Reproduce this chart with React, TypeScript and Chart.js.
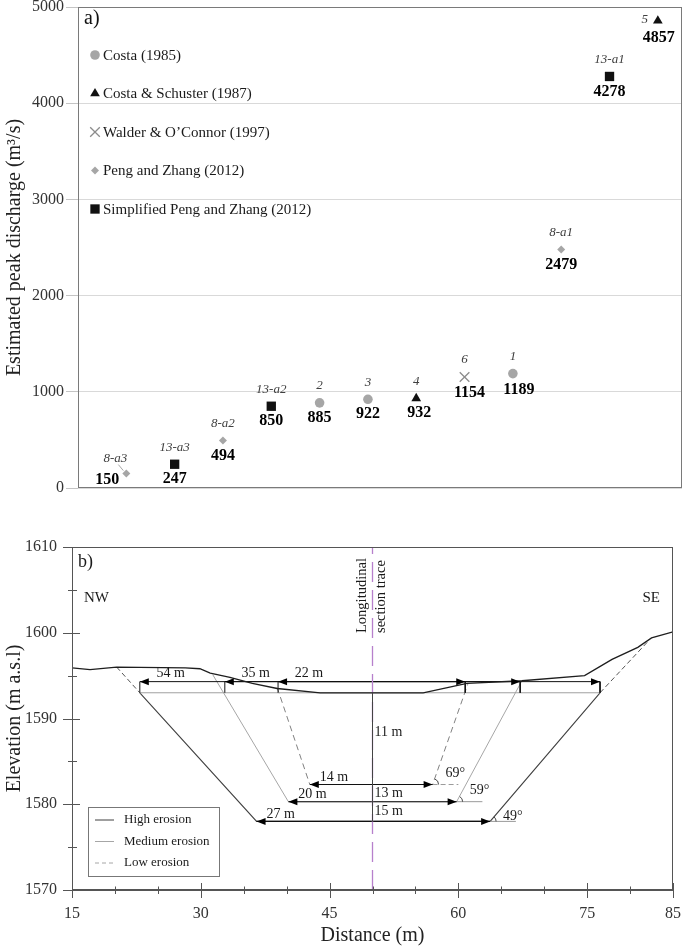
import React, { useEffect, useRef } from 'react';
import { Chart, registerables } from 'chart.js';
import { drawPoint } from 'chart.js/helpers';
import type { ChartConfiguration, Plugin } from 'chart.js';

Chart.register(...registerables);

const SERIF = '"Liberation Serif", "Times New Roman", Times, serif';

// ---- a) estimated peak discharge ----
const methodNames = [
  'Costa (1985)',
  'Costa & Schuster (1987)',
  'Walder & O’Connor (1997)',
  'Peng and Zhang (2012)',
  'Simplified Peng and Zhang (2012)',
];
const caseIds = ['8-a3', '13-a3', '8-a2', '13-a2', '2', '3', '4', '6', '1', '8-a1', '13-a1', '5'];
const caseMethod = [3, 4, 3, 4, 0, 0, 1, 2, 0, 3, 4, 1];
const peakDischarge = [150, 247, 494, 850, 885, 922, 932, 1154, 1189, 2479, 4278, 4857];

// ---- b) cross section ----
const terrainX = [15, 17.1, 20.2, 28.2, 29.9, 31.1, 33.4, 36.0, 38.9, 43.9, 55.9, 61.0, 67.4, 74.7, 77.9, 80.9, 82.5, 85];
const terrainY = [1595.9, 1595.7, 1596.0, 1595.9, 1595.8, 1595.3, 1594.8, 1594.1, 1593.5, 1593.0, 1593.0, 1594.1, 1594.4, 1595.0, 1596.9, 1598.3, 1599.4, 1600.1];
const bedX = [22.9, 76.5];
const bedY = [1593, 1593];
const highX = [22.9, 36.5, 63.7, 76.5];
const highY = [1593, 1578, 1578, 1593];
const highExtLeftX = [20.2, 22.9];
const highExtLeftY = [1596, 1593];
const highExtRightX = [76.5, 82.1];
const highExtRightY = [1593, 1599];
const mediumX = [31.4, 40.2, 59.8, 67.4];
const mediumY = [1595.1, 1580.3, 1580.3, 1594.4];
const lowX = [38.9, 42.7, 57.0, 61.1];
const lowY = [1593.6, 1582.3, 1582.3, 1594.0];
const bedLevel = 1593;
const spanLevel = 1594.3;
const topSpanLeft = [22.9, 32.8, 39.0];
const topSpanRight = [76.5, 67.2, 60.8];
const topSpanLabels = ['54 m', '35 m', '22 m'];
const floorLeft = [42.7, 40.2, 36.5];
const floorRight = [57.0, 59.8, 63.7];
const floorLevel = [1582.3, 1580.3, 1578.0];
const floorLabels = ['14 m', '20 m', '27 m'];
const depthLabels = ['11 m', '13 m', '15 m'];
const slopeAngles = [69, 59, 49];
const traceX = 50;
const distanceTicks = [15, 30, 45, 60, 75, 85];
const elevationTicks = [1570, 1580, 1590, 1600, 1610];
const erosionNames = ['High erosion', 'Medium erosion', 'Low erosion'];

const methodStyle = [
  { pointStyle: 'circle', radius: 4.8, color: '#a6a6a6', border: 0 },
  { pointStyle: 'triangle', radius: 5.6, color: '#111111', border: 0 },
  { pointStyle: 'crossRot', radius: 6.8, color: '#8c8c8c', border: 1.3 },
  { pointStyle: 'rectRot', radius: 4, color: '#a6a6a6', border: 0 },
  { pointStyle: 'rect', radius: 6.6, color: '#111111', border: 0 },
];

const labelNudge: Record<string, { idDx?: number; idDy?: number; valDx?: number; valDy?: number }> = {
  '8-a3': { idDx: -11, idDy: -15, valDx: -19, valDy: 6 },
  '5': { idDx: -13, idDy: -1, valDx: 1, valDy: 17 },
  '6': { valDx: 5, valDy: 16 },
  '1': { valDx: 6, valDy: 16 },
  '4': { valDx: 3 },
};

const panelAPlugin: Plugin<'scatter'> = {
  id: 'panelA',
  afterDraw(chart) {
    const { ctx, chartArea: a } = chart;
    ctx.save();
    ctx.strokeStyle = '#7a7a7a';
    ctx.lineWidth = 1;
    ctx.strokeRect(a.left + 0.5, a.top + 0.5, a.width - 1, a.height - 1);

    ctx.fillStyle = '#111';
    ctx.font = `20px ${SERIF}`;
    ctx.textAlign = 'left';
    ctx.textBaseline = 'middle';
    ctx.fillText('a)', a.left + 6, a.top + 12);

    methodNames.forEach((name, m) => {
      const st = methodStyle[m];
      const y = a.top + 48 + m * 38.5;
      ctx.fillStyle = st.color;
      ctx.strokeStyle = st.color;
      ctx.lineWidth = st.border || 1;
      drawPoint(ctx, { pointStyle: st.pointStyle as any, radius: st.radius, rotation: 0, borderWidth: st.border }, a.left + 17, y);
      ctx.fillStyle = '#1a1a1a';
      ctx.font = `15px ${SERIF}`;
      ctx.textAlign = 'left';
      ctx.fillText(name, a.left + 25, y + 1);
    });

    ctx.textAlign = 'center';
    chart.data.datasets.forEach((ds, di) => {
      const meta = chart.getDatasetMeta(di);
      meta.data.forEach((el, j) => {
        const raw = ds.data[j] as any;
        const n = labelNudge[raw.id] || {};
        ctx.font = `italic 13px ${SERIF}`;
        ctx.fillStyle = '#404040';
        ctx.fillText(raw.id, el.x + (n.idDx ?? 0), el.y + (n.idDy ?? -17));
        ctx.font = `bold 16px ${SERIF}`;
        ctx.fillStyle = '#000';
        ctx.fillText(String(raw.y), el.x + (n.valDx ?? 0), el.y + (n.valDy ?? 15));
        if (raw.id === '8-a3') {
          ctx.strokeStyle = '#a6a6a6';
          ctx.lineWidth = 1;
          ctx.beginPath();
          ctx.moveTo(el.x - 8, el.y - 9);
          ctx.lineTo(el.x - 3, el.y - 3);
          ctx.stroke();
        }
      });
    });
    ctx.restore();
  },
};

function arrowHead(ctx: CanvasRenderingContext2D, x: number, y: number, dir: number) {
  ctx.beginPath();
  ctx.moveTo(x, y);
  ctx.lineTo(x - dir * 9, y - 3.5);
  ctx.lineTo(x - dir * 9, y + 3.5);
  ctx.closePath();
  ctx.fill();
}

const panelBPlugin: Plugin<'line'> = {
  id: 'panelB',
  afterDraw(chart) {
    const { ctx, chartArea: a } = chart;
    const xs = chart.scales.x;
    const ys = chart.scales.y;
    const px = (v: number) => xs.getPixelForValue(v);
    const py = (v: number) => ys.getPixelForValue(v);
    ctx.save();

    // frame and crossing ticks
    ctx.strokeStyle = '#555';
    ctx.lineWidth = 1;
    ctx.strokeRect(a.left + 0.5, a.top + 0.5, a.width - 1, a.height - 1);
    ctx.beginPath();
    for (let v = 15; v <= 85; v += 5) {
      const major = distanceTicks.includes(v);
      const x = Math.round(px(v)) + 0.5;
      ctx.moveTo(x, a.bottom - (major ? 7 : 3.5));
      ctx.lineTo(x, a.bottom + (major ? 8 : 4));
    }
    for (let v = 1570; v <= 1610; v += 5) {
      const major = elevationTicks.includes(v);
      const y = Math.round(py(v)) + 0.5;
      ctx.moveTo(a.left - (major ? 9 : 4), y);
      ctx.lineTo(a.left + (major ? 8 : 5), y);
    }
    ctx.stroke();

    // arrow heads
    ctx.fillStyle = '#000';
    topSpanLeft.forEach((l, i) => {
      arrowHead(ctx, px(l), py(spanLevel), -1);
      arrowHead(ctx, px(topSpanRight[i]), py(spanLevel), 1);
    });
    floorLeft.forEach((l, i) => {
      arrowHead(ctx, px(l), py(floorLevel[i]), -1);
      arrowHead(ctx, px(floorRight[i]), py(floorLevel[i]), 1);
    });

    // angle arcs
    ctx.strokeStyle = '#333';
    ctx.lineWidth = 0.9;
    slopeAngles.forEach((deg, i) => {
      ctx.beginPath();
      ctx.arc(px(floorRight[i]), py(floorLevel[i]), 6, -(deg * Math.PI) / 180, 0);
      ctx.stroke();
    });

    // text
    ctx.fillStyle = '#1a1a1a';
    ctx.textBaseline = 'middle';
    ctx.font = `18px ${SERIF}`;
    ctx.textAlign = 'left';
    ctx.fillText('b)', a.left + 6, a.top + 15);
    ctx.font = `15px ${SERIF}`;
    ctx.fillText('NW', a.left + 12, a.top + 51);
    ctx.textAlign = 'right';
    ctx.fillText('SE', a.right - 13, a.top + 51);

    ctx.font = `14px ${SERIF}`;
    ctx.textAlign = 'center';
    topSpanLabels.forEach((t, i) => ctx.fillText(t, px(topSpanLeft[i] + 3.6), py(spanLevel) - 8));
    floorLabels.forEach((t, i) => ctx.fillText(t, px(floorLeft[i]) + 24, py(floorLevel[i]) - 7));
    ctx.textAlign = 'left';
    depthLabels.forEach((t, i) => {
      const upper = i === 0 ? bedLevel : floorLevel[i - 1];
      const lift = i === 0 ? 6 : 0;
      ctx.fillText(t, px(traceX) + 2, py((upper + floorLevel[i]) / 2) - lift);
    });
    const angleLift = [11, 11, 5];
    slopeAngles.forEach((deg, i) => {
      ctx.fillText(`${deg}°`, px(floorRight[i]) + 13, py(floorLevel[i]) - angleLift[i]);
    });

    // longitudinal section trace caption
    ctx.save();
    ctx.translate(px(traceX), a.top + 86);
    ctx.rotate(-Math.PI / 2);
    ctx.font = `14.5px ${SERIF}`;
    ctx.textAlign = 'left';
    ctx.fillText('Longitudinal', 0, -10);
    ctx.fillText('section trace', 0, 9);
    ctx.restore();

    // legend box
    const bx = a.left + 16;
    const by = a.top + 260;
    ctx.strokeStyle = '#777';
    ctx.lineWidth = 1;
    ctx.strokeRect(bx + 0.5, by + 0.5, 131, 69);
    const legendColors = ['#404040', '#a6a6a6', '#a6a6a6'];
    erosionNames.forEach((name, i) => {
      const y = by + 13 + i * 21.5;
      ctx.strokeStyle = legendColors[i];
      ctx.setLineDash(i === 2 ? [4, 3] : []);
      ctx.beginPath();
      ctx.moveTo(bx + 7, y);
      ctx.lineTo(bx + 26, y);
      ctx.stroke();
      ctx.setLineDash([]);
      ctx.fillStyle = '#1a1a1a';
      ctx.font = `13px ${SERIF}`;
      ctx.fillText(name, bx + 36, y);
    });
    ctx.restore();
  },
};

const pts = (xs: number[], ys: number[]) => xs.map((x, i) => ({ x, y: ys[i] }));

const line = (label: string, data: { x: number; y: number }[], color: string, width: number, dash: number[] = []) => ({
  type: 'line' as const,
  label,
  data,
  borderColor: color,
  borderWidth: width,
  borderDash: dash,
  pointRadius: 0,
  fill: false,
  tension: 0,
});

const axisTitle = (text: string, pad: { top: number; bottom: number }) => ({
  display: true,
  text,
  color: '#222',
  font: { family: SERIF, size: 20 },
  padding: pad,
});

function buildConfigA(): ChartConfiguration<'scatter'> {
  return {
    type: 'scatter',
    data: {
      datasets: methodNames.map((label, m) => ({
        label,
        data: caseIds
          .map((id, i) => ({ x: i + 1, y: peakDischarge[i], id }))
          .filter((_, i) => caseMethod[i] === m) as any,
        pointStyle: methodStyle[m].pointStyle as any,
        pointRadius: methodStyle[m].radius,
        backgroundColor: methodStyle[m].color,
        borderColor: methodStyle[m].color,
        borderWidth: methodStyle[m].border,
      })),
    },
    options: {
      animation: false,
      responsive: true,
      maintainAspectRatio: false,
      layout: { autoPadding: false, padding: { left: 0, top: 17, right: 3, bottom: 12 } },
      plugins: { legend: { display: false }, tooltip: { enabled: false } },
      scales: {
        x: { type: 'linear', min: 0, max: 12.5, display: false },
        y: {
          min: 0,
          max: 5000,
          afterFit: (s) => { s.width = 78; },
          ticks: { stepSize: 1000, padding: 2, color: '#333', font: { family: SERIF, size: 16 }, callback: (v) => String(v) },
          grid: { color: '#d9d9d9', tickColor: '#c4c4c4', tickLength: 12 },
          border: { display: false },
          title: axisTitle('Estimated peak discharge (m³/s)', { top: 3, bottom: 0 }),
        },
      },
    },
    plugins: [panelAPlugin],
  };
}

function buildConfigB(): ChartConfiguration<'line'> {
  const spans = topSpanLeft.map((l, i) =>
    line(topSpanLabels[i], [
      { x: l, y: bedLevel }, { x: l, y: spanLevel }, { x: topSpanRight[i], y: spanLevel }, { x: topSpanRight[i], y: bedLevel },
    ], '#111', 1));
  const floors = floorLeft.map((l, i) =>
    line(floorLabels[i], [{ x: l, y: floorLevel[i] }, { x: floorRight[i], y: floorLevel[i] }], '#111', 1.1));
  const angleRefs = floorRight.map((r, i) =>
    line(`${slopeAngles[i]}°`, [{ x: r, y: floorLevel[i] }, { x: r + 3, y: floorLevel[i] }], '#9a9a9a', 1, i === 0 ? [5, 3] : []));
  return {
    type: 'line',
    data: {
      // the first dataset is painted last, so the depth line sits over the trace
      datasets: [
        line('Depth', [{ x: traceX, y: bedLevel }, { x: traceX, y: floorLevel[2] }], '#444', 0.9),
        line('Terrain', pts(terrainX, terrainY), '#1e1e1e', 1.3),
        line('Trace', [{ x: traceX, y: 1570 }, { x: traceX, y: 1610 }], '#b780cc', 1.3, [20, 8]),
        ...spans,
        ...floors,
        ...angleRefs,
        line('Bed', pts(bedX, bedY), '#a0a0a0', 1),
        line('High erosion', pts(highX, highY), '#404040', 1.1),
        line('High left', pts(highExtLeftX, highExtLeftY), '#555', 1, [5, 3]),
        line('High right', pts(highExtRightX, highExtRightY), '#555', 1, [5, 3]),
        line('Medium erosion', pts(mediumX, mediumY), '#a6a6a6', 1),
        line('Low erosion', pts(lowX, lowY), '#808080', 1, [6, 4]),
      ] as any,
    },
    options: {
      animation: false,
      responsive: true,
      maintainAspectRatio: false,
      layout: { padding: { left: 0, top: 47, right: 12, bottom: 0 } },
      plugins: { legend: { display: false }, tooltip: { enabled: false } },
      scales: {
        x: {
          type: 'linear',
          min: 15,
          max: 85,
          afterFit: (s) => { s.height = 58; },
          afterBuildTicks: (s) => { s.ticks = distanceTicks.map((value) => ({ value })); },
          ticks: { autoSkip: false, maxRotation: 0, padding: 0, color: '#333', font: { family: SERIF, size: 16 }, callback: (v) => String(v) },
          grid: { display: false, drawTicks: true, tickLength: 14 },
          border: { display: true, color: '#555' },
          title: axisTitle('Distance (m)', { top: 0, bottom: 0 }),
        },
        y: {
          type: 'linear',
          min: 1570,
          max: 1610,
          afterFit: (s) => { s.width = 72; },
          ticks: { stepSize: 10, padding: 0, color: '#333', font: { family: SERIF, size: 16 }, callback: (v) => String(v) },
          grid: { display: false, drawTicks: true, tickLength: 15 },
          border: { display: true, color: '#555' },
          title: axisTitle('Elevation (m a.s.l)', { top: 3, bottom: 0 }),
        },
      },
    },
    plugins: [panelBPlugin],
  };
}

type Target = { top: number; bottom: number; right: number };

// nudge the layout padding until the plot area sits where the figure has it
function fitArea(chart: Chart, target: Target) {
  const layout = (chart.config.options as any).layout;
  for (let k = 0; k < 4; k++) {
    const a = chart.chartArea;
    const dTop = target.top - a.top;
    const dRight = a.right - target.right;
    const dBottom = a.bottom - target.bottom;
    if (Math.abs(dTop) < 0.5 && Math.abs(dRight) < 0.5 && Math.abs(dBottom) < 0.5) break;
    const p = layout.padding;
    layout.padding = { left: p.left, top: p.top + dTop, right: p.right + dRight, bottom: p.bottom + dBottom };
    chart.update();
  }
}

function ChartBox({ top, height, build, target }: { top: number; height: number; build: () => ChartConfiguration<any>; target: Target }) {
  const canvasRef = useRef<HTMLCanvasElement>(null);

  useEffect(() => {
    if (!canvasRef.current) return () => { /* nothing */ };
    const chart = new Chart(canvasRef.current, build());
    fitArea(chart, target);
    return () => {
      chart.destroy();
    };
  }, [build, target]);

  return (
    <div style={{ position: 'absolute', left: 0, top, width: 685, height }}>
      <canvas ref={canvasRef} />
    </div>
  );
}

const targetA: Target = { top: 17, bottom: 498, right: 682 };
const targetB: Target = { top: 47, bottom: 390, right: 673 };

export default function App() {
  return (
    <div style={{ position: 'absolute', left: 0, top: 0, width: 685, height: 948, background: '#fff', overflow: 'hidden' }}>
      <ChartBox top={-10} height={510} build={buildConfigA} target={targetA} />
      <ChartBox top={500} height={448} build={buildConfigB} target={targetB} />
    </div>
  );
}
